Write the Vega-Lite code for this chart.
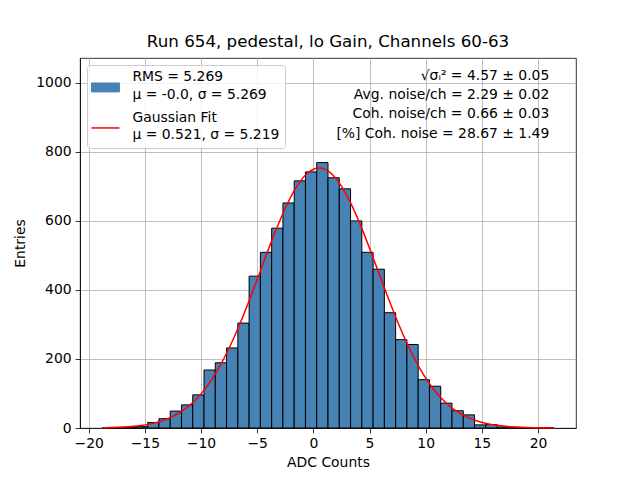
{
  "$schema": "https://vega.github.io/schema/vega-lite/v6.json",
  "width": 496,
  "height": 370,
  "autosize": {"type": "none"},
  "padding": {"left": 80, "top": 58, "right": 64, "bottom": 52},
  "title": {
    "text": "Run 654, pedestal, lo Gain, Channels 60-63",
    "fontSize": 16.7,
    "fontWeight": "normal",
    "font": "DejaVu Sans",
    "color": "black",
    "anchor": "middle",
    "offset": 7
  },
  "datasets": {
    "hist": [
      {"x0": -18.76, "x1": -17.757, "count": 1},
      {"x0": -17.757, "x1": -16.753, "count": 0},
      {"x0": -16.753, "x1": -15.75, "count": 1},
      {"x0": -15.75, "x1": -14.747, "count": 4},
      {"x0": -14.747, "x1": -13.743, "count": 16},
      {"x0": -13.743, "x1": -12.74, "count": 27},
      {"x0": -12.74, "x1": -11.737, "count": 49},
      {"x0": -11.737, "x1": -10.734, "count": 67},
      {"x0": -10.734, "x1": -9.73, "count": 96},
      {"x0": -9.73, "x1": -8.727, "count": 168},
      {"x0": -8.727, "x1": -7.724, "count": 189},
      {"x0": -7.724, "x1": -6.72, "count": 232},
      {"x0": -6.72, "x1": -5.717, "count": 304},
      {"x0": -5.717, "x1": -4.714, "count": 440},
      {"x0": -4.714, "x1": -3.71, "count": 509},
      {"x0": -3.71, "x1": -2.707, "count": 579},
      {"x0": -2.707, "x1": -1.704, "count": 652},
      {"x0": -1.704, "x1": -0.701, "count": 716},
      {"x0": -0.701, "x1": 0.303, "count": 742},
      {"x0": 0.303, "x1": 1.306, "count": 769},
      {"x0": 1.306, "x1": 2.309, "count": 725},
      {"x0": 2.309, "x1": 3.313, "count": 693},
      {"x0": 3.313, "x1": 4.316, "count": 600},
      {"x0": 4.316, "x1": 5.319, "count": 509},
      {"x0": 5.319, "x1": 6.323, "count": 460},
      {"x0": 6.323, "x1": 7.326, "count": 334},
      {"x0": 7.326, "x1": 8.329, "count": 256},
      {"x0": 8.329, "x1": 9.332, "count": 242},
      {"x0": 9.332, "x1": 10.336, "count": 140},
      {"x0": 10.336, "x1": 11.339, "count": 121},
      {"x0": 11.339, "x1": 12.342, "count": 72},
      {"x0": 12.342, "x1": 13.346, "count": 50},
      {"x0": 13.346, "x1": 14.349, "count": 38},
      {"x0": 14.349, "x1": 15.352, "count": 9},
      {"x0": 15.352, "x1": 16.356, "count": 10},
      {"x0": 16.356, "x1": 17.359, "count": 3},
      {"x0": 17.359, "x1": 18.362, "count": 2},
      {"x0": 18.362, "x1": 19.366, "count": 1},
      {"x0": 19.366, "x1": 20.369, "count": 1},
      {"x0": 20.369, "x1": 21.372, "count": 1}
    ],
    "fit": [
      {"x": -18.76, "y": 0.82},
      {"x": -18.5, "y": 0.98},
      {"x": -17.5, "y": 1.94},
      {"x": -16.5, "y": 3.69},
      {"x": -15.5, "y": 6.77},
      {"x": -14.5, "y": 11.97},
      {"x": -13.5, "y": 20.39},
      {"x": -12.5, "y": 33.52},
      {"x": -11.5, "y": 53.06},
      {"x": -10.5, "y": 81.02},
      {"x": -9.5, "y": 119.2},
      {"x": -8.5, "y": 169.0},
      {"x": -7.5, "y": 231.1},
      {"x": -6.5, "y": 304.7},
      {"x": -5.5, "y": 387.0},
      {"x": -4.5, "y": 474.0},
      {"x": -3.5, "y": 559.6},
      {"x": -2.5, "y": 636.8},
      {"x": -1.5, "y": 698.6},
      {"x": -0.5, "y": 738.7},
      {"x": 0.521, "y": 753.0},
      {"x": 1.5, "y": 739.9},
      {"x": 2.5, "y": 700.8},
      {"x": 3.5, "y": 639.8},
      {"x": 4.5, "y": 563.1},
      {"x": 5.5, "y": 477.7},
      {"x": 6.5, "y": 390.7},
      {"x": 7.5, "y": 307.9},
      {"x": 8.5, "y": 234.0},
      {"x": 9.5, "y": 171.4},
      {"x": 10.5, "y": 121.0},
      {"x": 11.5, "y": 82.4},
      {"x": 12.5, "y": 54.0},
      {"x": 13.5, "y": 34.2},
      {"x": 14.5, "y": 20.8},
      {"x": 15.5, "y": 12.2},
      {"x": 16.5, "y": 6.9},
      {"x": 17.5, "y": 3.8},
      {"x": 18.5, "y": 2.0},
      {"x": 19.5, "y": 1.0},
      {"x": 20.5, "y": 0.49},
      {"x": 21.37, "y": 0.26}
    ],
    "stats": [
      {"text": "√σᵢ² = 4.57 ± 0.05\nAvg. noise/ch = 2.29 ± 0.02\nCoh. noise/ch = 0.66 ± 0.03\n[%] Coh. noise = 28.67 ± 1.49  "}
    ]
  },
  "layer": [
    {
      "data": {"name": "hist"},
      "mark": {"type": "bar", "stroke": "black", "strokeWidth": 1, "opacity": 1},
      "encoding": {
        "x": {
          "field": "x0",
          "type": "quantitative",
          "scale": {"domain": [-20.77, 23.38], "nice": false, "zero": false},
          "axis": {"values": [-20, -15, -10, -5, 0, 5, 10, 15, 20], "title": "ADC Counts"}
        },
        "x2": {"field": "x1"},
        "y": {
          "field": "count",
          "type": "quantitative",
          "scale": {"domain": [0, 1072], "nice": false},
          "axis": {"values": [0, 200, 400, 600, 800, 1000], "format": "d", "title": "Entries"}
        },
        "y2": {"datum": 0},
        "color": {
          "datum": "hist",
          "type": "nominal",
          "scale": {"domain": ["hist", "fit"], "range": ["#4682b4", "red"]},
          "legend": {
            "orient": "top-left",
            "offset": 7,
            "title": null,
            "padding": 5.5,
            "cornerRadius": 3,
            "strokeColor": "#cccccc",
            "fillColor": "rgba(255,255,255,0.8)",
            "symbolSize": 784,
            "symbolOffset": 6,
            "labelOffset": 20,
            "labelFontSize": 13.9,
            "labelFont": "DejaVu Sans",
            "labelColor": "black",
            "labelLimit": 400,
            "rowPadding": 7.5,
            "labelExpr": "datum.value == 'hist' ? ['RMS = 5.269', 'μ = -0.0, σ = 5.269'] : ['Gaussian Fit', 'μ = 0.521, σ = 5.219']",
            "encode": {
              "symbols": {
                "update": {
                  "shape": {"signal": "datum.value == 'fit' ? 'stroke' : 'M-1,-0.32H1V0.32H-1Z'"},
                  "stroke": {"signal": "datum.value == 'fit' ? 'red' : 'black'"},
                  "strokeWidth": {"signal": "datum.value == 'fit' ? 1.5 : 1"},
                  "y": {"field": "size", "mult": 0.5, "offset": 10},
                  "opacity": {"value": 1}
                }
              },
              "labels": {
                "update": {"lineHeight": {"value": 17.3}}
              }
            }
          }
        }
      }
    },
    {
      "data": {"name": "fit"},
      "mark": {"type": "line", "strokeWidth": 1.5, "interpolate": "monotone"},
      "encoding": {
        "x": {"field": "x", "type": "quantitative"},
        "y": {"field": "y", "type": "quantitative"},
        "color": {
          "datum": "fit",
          "type": "nominal",
          "legend": {
            "encode": {
              "symbols": {
                "update": {
                  "shape": {"signal": "datum.value == 'fit' ? 'stroke' : 'M-1,-0.32H1V0.32H-1Z'"},
                  "stroke": {"signal": "datum.value == 'fit' ? 'red' : 'black'"},
                  "strokeWidth": {"signal": "datum.value == 'fit' ? 1.5 : 1"},
                  "y": {"field": "size", "mult": 0.5, "offset": 10},
                  "opacity": {"value": 1}
                }
              },
              "labels": {
                "update": {"lineHeight": {"value": 17.3}}
              }
            }
          }
        }
      }
    },
    {
      "data": {"name": "stats"},
      "mark": {
        "type": "text",
        "align": "right",
        "baseline": "alphabetic",
        "lineBreak": "\n",
        "lineHeight": 19.3,
        "fontSize": 13.9,
        "font": "DejaVu Sans",
        "color": "black"
      },
      "encoding": {
        "x": {"datum": 21.0, "type": "quantitative"},
        "y": {"datum": 1009, "type": "quantitative"},
        "text": {"field": "text"}
      }
    }
  ],
  "config": {
    "font": "DejaVu Sans",
    "view": {"stroke": "black", "strokeWidth": 0.8},
    "axis": {
      "zindex": 1,
      "grid": true,
      "gridColor": "#b0b0b0",
      "gridWidth": 0.8,
      "gridOpacity": 1,
      "domainColor": "black",
      "domainWidth": 0.8,
      "tickColor": "black",
      "tickWidth": 0.8,
      "tickSize": 4.9,
      "labelFontSize": 13.9,
      "labelFont": "DejaVu Sans",
      "labelColor": "black",
      "labelPadding": 3.5,
      "titleFontSize": 13.9,
      "titleFont": "DejaVu Sans",
      "titleFontWeight": "normal",
      "titleColor": "black"
    },
    "axisX": {"titlePadding": 5},
    "axisY": {"titlePadding": 8, "labelPadding": 4}
  }
}
